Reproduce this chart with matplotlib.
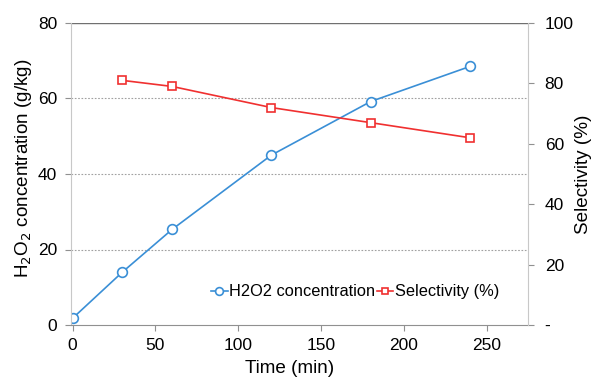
import matplotlib
matplotlib.use("Agg")
import matplotlib.pyplot as plt
from matplotlib.ticker import FixedLocator, FixedFormatter

plt.rcParams['font.family'] = ['Liberation Sans', 'DejaVu Sans']

time_h2o2 = [0, 30, 60, 120, 180, 240]
h2o2 = [1.8, 14.0, 25.3, 45.0, 59.2, 68.5]
time_sel = [30, 60, 120, 180, 240]
selectivity = [81, 79, 72, 67, 62]

left_ticks = [0, 20, 40, 60, 80]
right_ticks = [0, 20, 40, 60, 80, 100]
right_labels = ['-', '20', '40', '60', '80', '100']
x_ticks = [0, 50, 100, 150, 200, 250]

blue = '#3a8fd6'
red = '#f03030'
fs = 12.5
lfs = 13.6

fig = plt.figure(figsize=(5.92, 3.77), dpi=100)
ax = fig.add_axes([71/592, 1 - 325/377, (528-71)/592, (325-23)/377])
ax2 = ax.twinx()

ax.set_xlim(-1, 275)
ax.set_ylim(0, 80)
ax2.set_ylim(0, 100)

for y in [20, 40, 60]:
    ax.axhline(y, color='#a0a0a0', lw=0.8, ls=(0, (1.5, 1.5)), zorder=0)
ax.axhline(80, color='#707070', lw=1.0, zorder=0)

l1, = ax.plot(time_h2o2, h2o2, color=blue, lw=1.2, marker='o', ms=7,
              mfc='white', mec=blue, mew=1.2, label='H2O2 concentration')
l2, = ax2.plot(time_sel, selectivity, color=red, lw=1.2, marker='s', ms=6,
               mfc='white', mec=red, mew=1.2, label='Selectivity (%)')

ax.set_yticks(left_ticks)
ax.set_xticks(x_ticks)
ax2.yaxis.set_major_locator(FixedLocator(right_ticks))
ax2.yaxis.set_major_formatter(FixedFormatter(right_labels))

for a in (ax, ax2):
    for s in a.spines.values():
        s.set_visible(False)
ax.spines['left'].set_visible(True)
ax.spines['left'].set_color('#c8c8c8')
ax.spines['bottom'].set_visible(True)
ax.spines['bottom'].set_color('#909090')
ax2.spines['right'].set_visible(True)
ax2.spines['right'].set_color('#c8c8c8')

ax.tick_params(axis='y', labelsize=fs, length=4, color='#909090', direction='out', pad=6)
ax.tick_params(axis='x', labelsize=fs, length=4, color='#909090', direction='out', pad=5)
ax2.tick_params(axis='y', labelsize=fs, length=4, color='#909090', direction='out', pad=8)

ax.set_xlabel('Time (min)', fontsize=lfs, labelpad=5)
ax.xaxis.set_label_coords(0.478, -0.115)
ax.set_ylabel(r'H$_2$O$_2$ concentration (g/kg)', fontsize=lfs, labelpad=5)
ax.yaxis.set_label_coords(-0.08, 0.52)
ax2.set_ylabel('Selectivity (%)', fontsize=lfs, labelpad=1)

ax.legend(handles=[l1, l2], loc='center', bbox_to_anchor=(0.622, 0.11),
          ncol=2, frameon=False, fontsize=11.8, handlelength=1.0,
          handletextpad=0.1, columnspacing=0.1, markerscale=0.8,
          borderaxespad=0)

fig.savefig('out.png', dpi=100)
